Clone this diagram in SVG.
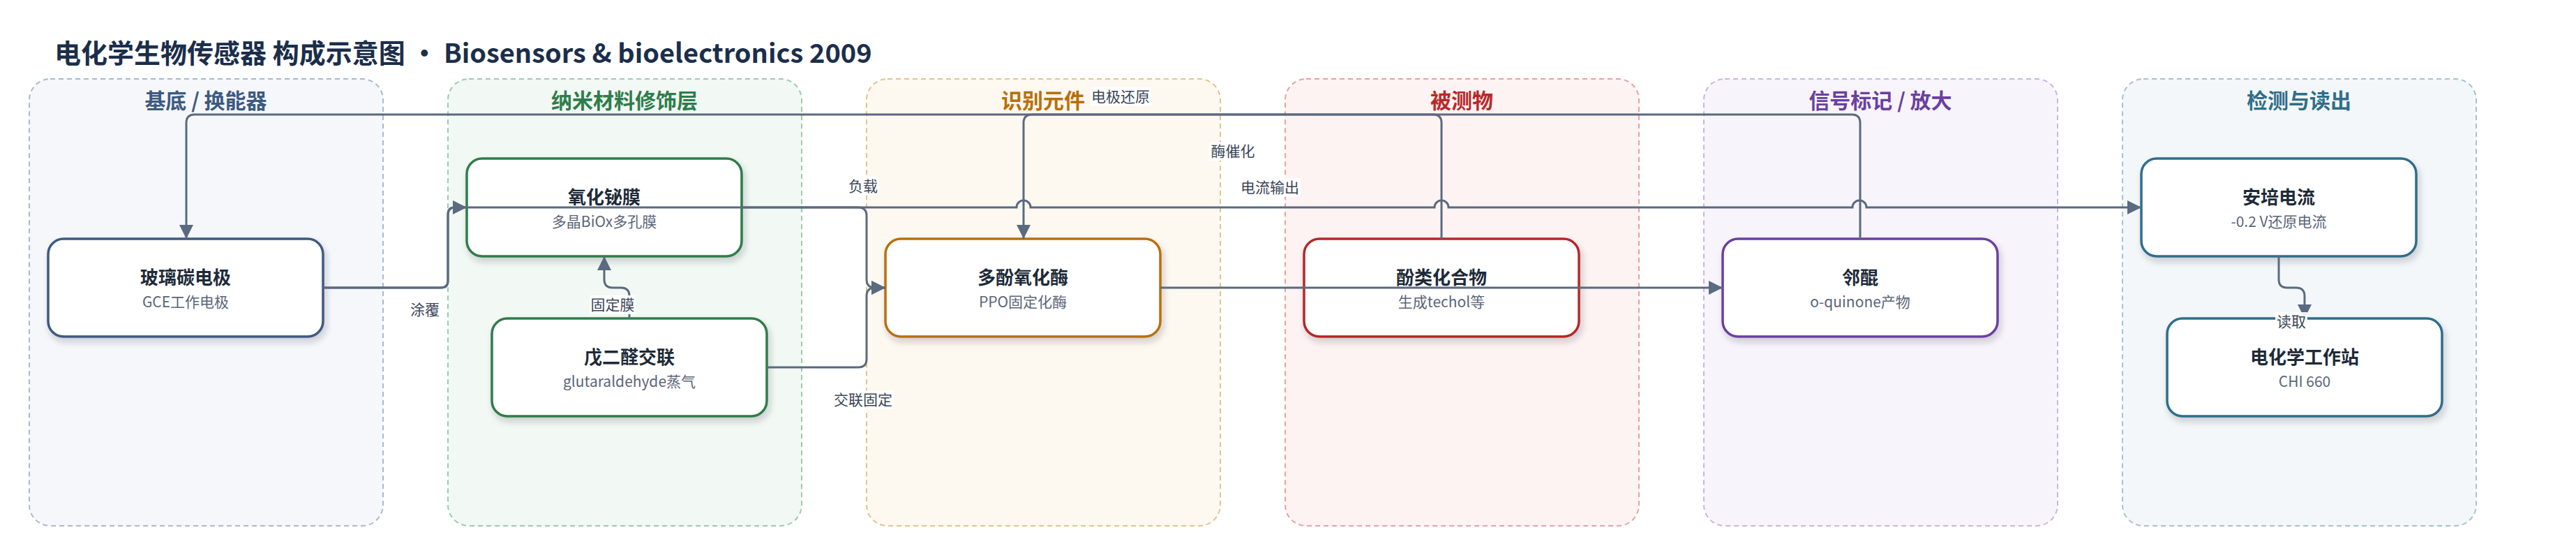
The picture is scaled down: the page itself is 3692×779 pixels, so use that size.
<svg xmlns="http://www.w3.org/2000/svg" width="3692" height="779" viewBox="0 0 3692 779">
<defs>
<style>
.title{font-family:"Noto Sans CJK SC","Noto Sans",sans-serif;font-weight:700;font-size:38px;fill:#1b2e4b}
.col{stroke-width:2;stroke-dasharray:7 5}
.ct{font-family:"Noto Sans CJK SC","Noto Sans",sans-serif;font-weight:700;font-size:30px;text-anchor:middle}
.node{fill:#ffffff;stroke-width:3.5;filter:url(#sh)}
.nt{font-family:"Noto Sans CJK SC","Noto Sans",sans-serif;font-weight:700;font-size:26px;fill:#1e2a38;text-anchor:middle}
.ns{font-family:"Noto Sans CJK SC","Noto Sans",sans-serif;font-size:21px;fill:#5b6577;text-anchor:middle}
.e{fill:none;stroke:#5a6a80;stroke-width:3}
.ea{fill:none;stroke:#5a6a80;stroke-width:3;marker-end:url(#arr)}
.lb{fill:#ffffff;opacity:0.9}
.lt{font-family:"Noto Sans CJK SC","Noto Sans",sans-serif;font-size:21px;fill:#3b4657;text-anchor:middle}
</style>
<marker id="arr" markerUnits="userSpaceOnUse" markerWidth="20" markerHeight="20" refX="20" refY="10" orient="auto">
<path d="M0,0 L20,10 L0,20 z" fill="#5a6a80"/>
</marker>
<filter id="sh" x="-10%" y="-20%" width="125%" height="150%">
<feDropShadow dx="3" dy="6" stdDeviation="5" flood-color="#1e2a38" flood-opacity="0.2"/>
</filter>
</defs>
<rect width="3692" height="779" fill="#ffffff"/>
<text class="title" x="78" y="90">电化学生物传感器 构成示意图 • Biosensors &amp; bioelectronics 2009</text>

<g id="lanes">
<g id="lane-substrate"><rect class="col" x="42" y="113" width="507" height="640" rx="30" fill="#f5f7fb" stroke="#a9b9cd"/><text class="ct" x="295" y="155" fill="#3d5a80">基底 / 换能器</text></g>
<g id="lane-nano"><rect class="col" x="642" y="113" width="507" height="640" rx="30" fill="#f2f8f4" stroke="#9dcbad"/><text class="ct" x="895" y="155" fill="#2e7d4a">纳米材料修饰层</text></g>
<g id="lane-recog"><rect class="col" x="1242" y="113" width="507" height="640" rx="30" fill="#fdf8f0" stroke="#e6c28e"/><text class="ct" x="1495" y="155" fill="#b8700a">识别元件</text></g>
<g id="lane-analyte"><rect class="col" x="1842" y="113" width="507" height="640" rx="30" fill="#fdf3f3" stroke="#e6a2a2"/><text class="ct" x="2095" y="155" fill="#b82828">被测物</text></g>
<g id="lane-signal"><rect class="col" x="2442" y="113" width="507" height="640" rx="30" fill="#f7f4fb" stroke="#c8b6e0"/><text class="ct" x="2695" y="155" fill="#6a3fa0">信号标记 / 放大</text></g>
<g id="lane-detect"><rect class="col" x="3042" y="113" width="507" height="640" rx="30" fill="#f3f7f9" stroke="#a6c2ce"/><text class="ct" x="3295" y="155" fill="#2f6e8a">检测与读出</text></g>
</g>

<g id="n-gce"><rect class="node" x="69" y="342" width="394" height="140" rx="22" stroke="#3d5a80"/><text class="nt" x="266" y="407">玻璃碳电极</text><text class="ns" x="266" y="440">GCE工作电极</text></g>
<g id="n-biox"><rect class="node" x="669" y="227" width="394" height="140" rx="22" stroke="#2e7d4a"/><text class="nt" x="866" y="292">氧化铋膜</text><text class="ns" x="866" y="325">多晶BiOx多孔膜</text></g>
<g id="n-ga"><rect class="node" x="705" y="456" width="394" height="140" rx="22" stroke="#2e7d4a"/><text class="nt" x="902" y="521">戊二醛交联</text><text class="ns" x="902" y="554">glutaraldehyde蒸气</text></g>
<g id="n-ppo"><rect class="node" x="1269" y="342" width="394" height="140" rx="22" stroke="#b87010"/><text class="nt" x="1466" y="407">多酚氧化酶</text><text class="ns" x="1466" y="440">PPO固定化酶</text></g>
<g id="n-phenol"><rect class="node" x="1869" y="342" width="394" height="140" rx="22" stroke="#b82828"/><text class="nt" x="2066" y="407">酚类化合物</text><text class="ns" x="2066" y="440">生成techol等</text></g>
<g id="n-quinone"><rect class="node" x="2469" y="342" width="394" height="140" rx="22" stroke="#6a3fa0"/><text class="nt" x="2666" y="407">邻醌</text><text class="ns" x="2666" y="440">o-quinone产物</text></g>
<g id="n-amp"><rect class="node" x="3069" y="227" width="394" height="140" rx="22" stroke="#2f6e8a"/><text class="nt" x="3266" y="292">安培电流</text><text class="ns" x="3266" y="325">-0.2 V还原电流</text></g>
<g id="n-chi"><rect class="node" x="3106" y="456" width="394" height="140" rx="22" stroke="#2f6e8a"/><text class="nt" x="3303" y="521">电化学工作站</text><text class="ns" x="3303" y="554">CHI 660</text></g>

<g id="connectors">
<path class="ea" d="M463,412 H632 Q642,412 642,402 V307 Q642,297 652,297 H669"/>
<path class="ea" d="M463,412 H632 Q642,412 642,402 V307 Q642,297 652,297 H1457 A10,10 0 0 1 1477,297 H2056 A10,10 0 0 1 2076,297 H2655 A10,10 0 0 1 2675,297 H3069"/>
<path class="ea" d="M902,456 V424 Q902,412 890,412 H878 Q866,412 866,400 V367"/>
<path class="ea" d="M1063,297 H1230 Q1242,297 1242,309 V400 Q1242,412 1254,412 H1269"/>
<path class="ea" d="M1099,526 H1230 Q1242,526 1242,514 V424 Q1242,412 1254,412 H1269"/>
<path class="ea" d="M2066,342 V176 Q2066,164 2054,164 H1479 Q1467,164 1467,176 V342"/>
<path class="ea" d="M1663,412 H2469"/>
<path class="ea" d="M2666,342 V176 Q2666,164 2654,164 H279 Q267,164 267,176 V342"/>
<path class="ea" d="M3266,367 V400 Q3266,412 3278,412 H3291 Q3303,412 3303,424 V456"/>
<g id="edge-labels">
<rect class="lb" x="586" y="430" width="46" height="27"/><text class="lt" x="609" y="451">涂覆</text>
<rect class="lb" x="845" y="423" width="66" height="27"/><text class="lt" x="878" y="444">固定膜</text>
<rect class="lb" x="1214" y="253" width="46" height="27"/><text class="lt" x="1237" y="274">负载</text>
<rect class="lb" x="1193" y="559" width="88" height="27"/><text class="lt" x="1237" y="580">交联固定</text>
<rect class="lb" x="1562" y="125" width="88" height="27"/><text class="lt" x="1606" y="146">电极还原</text>
<rect class="lb" x="1733" y="203" width="67" height="27"/><text class="lt" x="1767" y="224">酶催化</text>
<rect class="lb" x="1776" y="255" width="88" height="27"/><text class="lt" x="1820" y="276">电流输出</text>
<rect class="lb" x="3261" y="447" width="46" height="27"/><text class="lt" x="3284" y="468">读取</text>
</g>
</g>
</svg>
